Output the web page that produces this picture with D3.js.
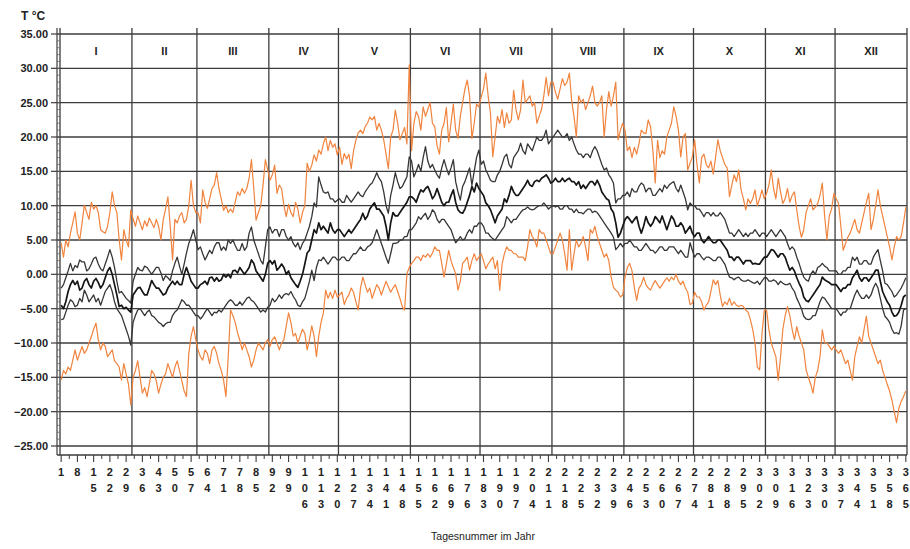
<!DOCTYPE html>
<html>
<head>
<meta charset="utf-8">
<script src="https://cdn.jsdelivr.net/npm/d3@7"></script>
<style>
  html, body { margin: 0; padding: 0; background: #fff; }
  svg { display: block; font-family: "Liberation Sans", Arial, sans-serif; }
</style>
</head>
<body>
<svg id="chart" width="910" height="549"></svg>
<script>
// Daily air temperature over the year (day 1 … 365)
const monthNames = ["I","II","III","IV","V","VI","VII","VIII","IX","X","XI","XII"];
const monthDays = [31,28,31,30,31,30,31,31,30,31,30,31];
const yTicks = [-25,-20,-15,-10,-5,0,5,10,15,20,25,30,35];
const dayTicks = [1,8,15,22,29,36,43,50,57,64,71,78,85,92,99,106,113,120,127,134,141,148,155,162,169,176,183,190,197,204,211,218,225,232,239,246,253,260,267,274,281,288,295,302,309,316,323,330,337,344,351,358,365];

// absolute daily maximum
const tMax = [
  4.6,2.5,5,4,6,7.5,9.1,6,5,7.5,10.1,9,8,10.5,9.5,10,9,6.5,6.2,6,7,9,12,10,9,5,2.1,6.5,5,4,9.4,
  8.1,7,8.5,7.5,6.5,7.8,7,8.2,7.5,6.8,8,7,5,8,9.5,11.3,7,2.1,8,7.5,8.5,9,7.5,8,10,13.7,10,9,
  9,7.5,12.3,10.5,9.6,11,12.5,13,14.8,12.5,11,9.3,10,9,9.5,9,10.5,12,11.5,12.5,11.8,12.5,14,16.7,12.5,7.9,9,10,13,16.7,15.2,
  13.7,14.5,15.9,11.8,13,12.5,10,8.4,10.2,9,8.4,10.5,9.5,7.5,9,10,16.2,15,15.9,17.4,16.5,18.1,17.5,19,20,18,19.5,18.5,19,17.4,
  18.5,16,17.6,16.8,17.5,15.4,18,19.5,20.6,21,20.5,21.5,22,22.9,22.5,23,21,22,21,19.6,17.5,15.4,20,21,23.9,22,19.6,20.5,21.4,19,30.5,
  18,22,23.7,23,21,24.4,23,24,25,22,21.5,18.7,17.5,21,22,24.3,19.3,22,24.8,21,19.8,23,25,27,28.3,26,19.8,22,24.8,24.4,
  25.8,27,29.3,26,23.5,17.1,20,23,22,24,21.4,23.5,22,22.5,26.8,24,22.5,24,28.3,25,25.5,26,24.5,25,22,23,24,26,28.7,26,28,
  28,26.5,25.5,27,28.5,27.5,28,29.3,25.3,23,20,26,25,25.5,24,25,26,27.4,25,24.5,25,26,20,24,26.6,24.5,26,28,19.6,21,22,
  21,18,18.6,17,18.5,17.5,19,21,20.6,20.5,22.5,21.5,18,13.3,19.5,17,18,17.5,20,21,22,24.4,23,21,17.1,20,20.5,15.2,16.2,17.1,
  19.6,16,13.3,17,17.5,16,15.5,16.5,14.6,17,19.6,18,17,16,15.5,11.3,13,14.5,13.5,15.2,12.3,11,9.4,11,10.3,11,12.3,10,11,12.3,11,
  11.8,13,15.2,12.5,11,14,12,10.3,11,12.5,10.5,11.5,12,9.4,7,5.4,6.5,9,10,11,9.4,9.8,10.3,11.5,13.3,8.5,5,8.5,9.5,11.8,
  11,10.3,7,3.5,4.5,5.4,6,7,8,6.5,6,7.5,9,10.5,11.8,6.5,8,10,12.3,10,8.5,7,5.5,4,2.1,4,5.5,5,5.5,7.5,9.8
];

// upper band
const tHigh = [
  -2,-1.5,-0.5,0.5,1.6,0.5,1.3,1,2.1,1.8,1.8,0.5,0.8,1.5,2.3,2.5,1.5,0.8,0.5,1.5,2.5,3.6,2.5,1,-1,-2.7,-2.5,-3,-3.5,-3.8,-4.2,
  -1,0,1,0.6,0.5,1.2,1,0.5,0,0.5,1,1,0.2,-0.9,-0.2,-0.5,-0.9,0.5,1.6,2.5,1.2,0,1.5,3.1,4.5,5.4,6.5,5,
  3.6,4,3,2.1,2.8,3.5,3,4,4.6,4.6,3.5,4,3.5,5,4.5,5,4.2,3.5,3.5,4.5,3.5,4,6,6.9,5,4,3,2,1.5,4,6.5,
  6.9,6,6.5,6.5,5.5,6.5,6.5,5.5,5,5.5,4.5,4,4.6,3.6,4.5,5,6,7,8.4,10.4,9.8,14.2,13,12,11.8,12,11,11,10.5,10.8,
  11,10.5,10.5,11.5,11,10.5,11,11.5,12,11.5,11.3,12,12.5,13,13.3,14,14.8,14,13.5,12,10,8.9,11.5,13,14.8,13.5,12.5,12.8,13.5,14.2,17.1,
  16.5,14.2,15,16,15,17,18.6,16.5,15.5,16,15.2,14.5,14,15.5,16.7,15.5,14.5,15.5,16.7,13.5,12,10.8,12.8,13.5,14.5,15.5,13,15,17,18.1,
  16,16.5,15.2,14.5,13.7,13.5,13.5,14.5,15,16,17.1,17.5,16,15.5,17,17.5,18,19.1,18,17.5,19,18.5,18,19,20,19.5,19.5,20,21,19,19.5,
  20,20.5,21,20.5,20,20,20.5,19.5,20,19,18.1,17.5,17.5,17,17.5,17.5,17,18,18.6,18,17,16,15.2,15.5,14.5,14,13.3,10.4,11,11,11.5,
  11.5,12,11.3,12.5,12,12,12.8,13.3,13,12,12.5,12.5,11.5,11.5,12,12.5,12,13,12.5,13,13.3,13.5,12.5,12,13,12,11,9.4,10.4,10,
  10,9.5,9.5,9,8.4,9,9,8.5,9,8.5,8.5,9,8.5,8,7,6,6,5.5,6,6.5,6,5.5,6,5.5,6,6,6.5,6,5.5,6,6,
  5.5,6,6.5,6,5.5,6,6.5,6,5.5,4.5,3.6,4,3.6,2.5,1.6,0.5,-0.4,-0.8,-1,0,0.5,0,1,1.2,1.6,1.2,1,0.5,0.5,0.5,
  0.5,0,0,0.5,0.5,1,1,2.5,2,2.5,1.5,1.5,2,2,1.5,1.5,2.5,3.1,3.6,2,0.5,-1.3,-1.5,-2,-2.5,-3.3,-3,-2.5,-2,-1.3,-0.5
];

// daily mean
const tMean = [
  -4.5,-5,-4,-2.5,-1.5,-0.9,-1.5,-1,-2.3,-2,-1,-0.6,-1.5,-2,-1,-0.6,-1.2,-2,-1.5,-0.5,0.5,1,0,-1.5,-3,-4.7,-4.5,-5,-4.8,-5.2,-5.5,
  -3,-2.5,-2,-1.9,-2.5,-3,-3,-2,-0.9,-1.5,-2,-2,-2.5,-3,-2.8,-2,-1.5,-1,-1.5,-1,-1.5,-1.5,0,1,0,-1,-1.5,-2,
  -2,-1.5,-1.3,-1,-1.5,-0.5,-0.4,-1,-0.5,-1,-0.8,0,-0.4,0,-0.5,0.5,0.6,0.2,1,0.5,0,0.5,1,2.1,1.6,0.5,0,-0.5,-1,0,1.6,
  2,1.5,2,0.6,1,1.5,1,0,0.5,-0.5,-1,-1.5,-1.9,-1,0,1.5,3.1,3.5,5,6.5,6,7.5,6.5,7,6.5,6,7.5,6.5,6,6.5,
  6.5,6,5.5,6,6.5,6,6.5,7,7.5,8,8.9,8,8.5,9.5,10,10.4,9.5,9.5,9,8.5,7,5,7.5,9,8.5,8.5,9,9.5,10,10.5,11.3,
  11.3,11,10.5,11.5,12.3,12,12.5,12.8,12,11,11.5,12.5,11.5,10.5,10,10.5,10.5,11.5,12.3,10.5,9.4,9,8.9,9.5,10.5,11.5,12.8,12,13.3,12.5,
  12,11.5,10.4,10,9.4,8.5,7.5,8.5,9,9.5,11,10.5,11.5,12.8,12,11.5,11.5,12,12.5,13,13.7,13,12.8,13.5,13.7,13.5,14,14.2,14.5,14,13.3,
  13.5,14,13.5,13.5,14,13.5,13.8,14,13.5,13.5,13,13.5,12.5,13,12.5,13,13.5,13.5,13,13.7,13,12,11.5,11,10.8,9.5,9,7.5,5.4,6,7,
  8,8.4,8,7.5,8,8.4,7,6,7,8.4,7.5,7,7.5,8.4,8,7.5,8.5,7.5,6.5,7.5,8.5,8,7,7,7.5,7,6,6.5,7,6,
  5.5,6,6,5,4.6,5,5.5,5,4.6,4.6,5,5,4.5,4,3.5,2.5,2.5,2,2.5,2.5,2,1.5,2,2,2,1.5,1.6,1.5,1.5,2,2.5,
  2.5,3,3.6,3.5,3,2.5,3,3,2.5,1.5,0.6,1,0.5,-0.5,-1.3,-2,-3.3,-3.8,-4,-3.5,-3,-2.5,-2,-1.5,-0.4,-0.8,-1,-1.2,-1.5,-1.5,
  -1.5,-2,-2.5,-2,-2,-1.5,-1.5,-0.5,0,0.6,-0.5,-1,-0.5,-0.5,-1,-0.5,0,0.6,0.6,-1,-2.5,-3.3,-4,-4.5,-5.5,-6.1,-6,-5.5,-4.5,-3.3,-3
];

// lower band
const tLow = [
  -6.6,-6.5,-5.5,-4.5,-3.7,-4,-4.7,-4.5,-3.5,-4,-2.3,-3,-4,-3.5,-3,-4,-3.5,-4.5,-3.5,-2.5,-2,-1.5,-2.5,-4,-5,-5.5,-6,-7,-8,-9,-10.3,
  -7,-6,-5.2,-5,-5.5,-6,-5.5,-5.2,-6,-6.2,-6.6,-7,-7.2,-7.6,-7.2,-7,-7,-6,-5.5,-5.2,-4.5,-3.7,-4,-4.5,-4.5,-5,-5.5,-6,
  -6,-6.5,-6.1,-5.5,-5,-5.5,-6,-5.5,-5.6,-5.2,-5.5,-5,-4.5,-4,-3.7,-4,-4.5,-4.5,-4,-4.5,-4,-3.5,-3.3,-3.8,-4,-4.5,-5,-5.5,-5.2,-5.5,-4.8,
  -4.5,-3.5,-4,-3.6,-3,-3.5,-3,-2.8,-3,-2.5,-3.2,-3.7,-4.5,-4.7,-4,-3.5,-2.3,-1,0.6,-0.9,1,2.1,2,2.5,2,1.5,2,2.5,2.5,2.1,
  2.1,2.5,2.5,2,2,2.5,3,3,3.5,4,3.5,3.5,4,4.2,4.6,5.5,6.5,5.5,4.5,3.5,2.5,1.6,3,4.5,4.5,4.6,5,5,5.5,5.5,6.5,
  6.5,7,7.5,8.4,8,8.5,8.9,8,8.5,9.4,9,8,7.5,8,8,7.5,7,6.5,5.5,4.6,5,5.5,5,5.2,6,6.5,6,7,7,7.5,
  7.5,7,6,6,5.5,5.2,5,5.5,6,6.5,7,8.4,8,7.5,8,8,8.5,9,9.4,9.5,9.8,9.5,9.4,9.5,9.8,10,10,10.4,10,9.5,9.8,
  10,9.8,10,9.5,9.5,10,10,9.5,9.5,9,9.5,9,9,8.8,9.2,9.5,9.5,9,9.2,9,8.5,8,7.5,7,6.5,6,5.4,3.6,4,4.5,4,
  4.5,4.5,5,4.5,4,4,3.5,3.5,4,4.5,4,3.5,3.5,3.1,3.5,4,4,3.5,3.5,4,4,4,3.5,3,3.5,3,2.5,2.5,4.6,3.5,
  2.5,3,3,2.5,2.1,2.5,2.5,2.3,2,2,2.5,2.5,2,1.5,0.5,-0.4,-0.5,-0.8,-0.5,-0.4,-0.8,-1,-1,-0.8,-1,-1.2,-1.3,-1,-1.5,-1,-0.5,
  -0.5,-1,-1,-0.8,-1,-1.5,-1,-1.3,-1.5,-1.5,-1.3,-2,-2.5,-3.5,-4.2,-5,-6.1,-6.5,-6.6,-6.5,-6,-6,-5,-4,-3.3,-3.5,-4,-4.5,-5,-5,
  -5,-5.5,-6,-5.5,-5.5,-5,-5,-4,-3,-2.3,-3,-3.5,-3.5,-3,-3.5,-3,-2,-1.3,-2,-3.5,-5,-6.1,-6.5,-7,-8,-8.6,-8.5,-8.7,-7.5,-5.2,-5
];

// absolute daily minimum
const tMin = [
  -15.4,-14,-14.5,-13.5,-14,-12.5,-11,-12.5,-11.5,-10.5,-11.5,-11,-10,-9.1,-8,-7.1,-9.5,-11,-10,-10.5,-12,-11.5,-11,-12.6,-13,-13.5,-15.4,-13,-14.5,-16,-19,
  -15,-14,-12.6,-15,-17.3,-16.5,-17.8,-16,-14,-14.5,-15.5,-17.3,-16,-15,-14.5,-13,-14,-15,-13.5,-12.6,-14,-15.5,-17,-17.8,-11.5,-9,-7.6,-9.5,
  -11,-12,-12.5,-11,-11.5,-13,-11,-10.5,-11.5,-13,-14,-15.4,-17.8,-12,-5.2,-6,-7,-8.5,-9.6,-11,-10,-11,-12,-13.5,-12.5,-11,-10,-10.5,-11,-10,-9.5,
  -10.5,-9.5,-9.1,-10,-11,-10,-9.5,-7.5,-5.6,-7,-9,-8.6,-10,-9,-8,-8.6,-11,-9.5,-7.5,-9,-12,-9,-7,-5.6,-2.3,-3.5,-2.6,-3.5,-2.3,-3.3,
  -3,-2.6,-4.4,-3.5,-3,-2,-2.6,-4,-5.2,-2,-0.4,-1.5,-2.6,-2,-3.5,-2.5,-1.5,-2,-3,-2,-1,-1.8,-2.6,-2,-1.5,-2.5,-3.5,-4.7,-5.2,0.1,1,
  1.6,2,2.5,2.5,2,2.8,2.5,3,2.5,3.1,4,3.5,3.5,1.6,-0.4,1.5,3.5,2,1,0.1,-2.3,-1,1.6,2,2.5,0.6,2,3,2,2.5,
  3,2,0.8,1.5,2,2.5,0.8,2,-2.3,1.5,3,4,3.5,3.5,3,3,2.5,2.5,2.5,2,4,6.5,5.5,5,4,6.5,6,6,5,4,3,
  3,4,5,6,5,3,0.6,6.5,0.6,3,5,4,4.5,5.5,4,2,6.5,6,7,5.5,4.5,3.5,2.5,3,2,-0.4,-1.9,-2.3,-2.6,-3.3,-3,
  -0.4,1,1.6,0.5,-1.9,-3.8,-2,-1.5,-0.4,-1.5,-2,-2.3,-1.5,-0.9,-1.5,-2,-1.5,-1,-0.5,-1,-0.4,-0.8,0,-1,-1.5,-1,-2,-2.6,-4.4,-4.2,
  -2.6,-3.3,-3.3,-4,-5.2,-4.5,-4,-2.5,-0.8,-1.5,-0.9,-3,-4.7,-4,-4.4,-3.5,-4.5,-4,-4.5,-4.7,-4.5,-4.7,-5.2,-5.5,-6.6,-8,-10,-13.5,-13.9,-8.7,-5.2,
  -5.2,-8.1,-10,-11,-12,-15.4,-12,-8,-6,-4.7,-6,-8,-9.5,-7.6,-9,-10,-11,-13.9,-15,-16,-17.3,-15,-14,-12,-8.1,-10,-10,-10.5,-11,-10.5,
  -11,-11.5,-11,-12,-13,-12.5,-14,-15.4,-12,-10.5,-9.1,-10,-8,-6.1,-9,-10,-11,-12,-13,-12.5,-14,-15,-16,-17,-18.3,-20,-21.6,-19.5,-18.5,-17.8,-17
];

const svg = d3.select("#chart");

const x = d3.scaleLinear().domain([0, 365]).range([60, 907]);
const y = d3.scaleLinear().domain([-25, 35]).range([446, 34]);

const frameTop = y(35) - 6;
const axisY = y(-25) + 9;
const axisX = 57;
const gridColor = "#3c3c3c";

// month boundaries
const bounds = [0];
monthDays.forEach(d => bounds.push(bounds[bounds.length - 1] + d));

// horizontal grid
svg.append("g").selectAll("line").data(yTicks).join("line")
  .attr("x1", axisX).attr("x2", x(365))
  .attr("y1", d => y(d)).attr("y2", d => y(d))
  .attr("stroke", gridColor).attr("stroke-width", 1.3);

// vertical month lines
svg.append("g").selectAll("line").data(bounds).join("line")
  .attr("x1", d => x(d)).attr("x2", d => x(d))
  .attr("y1", frameTop).attr("y2", axisY)
  .attr("stroke", gridColor).attr("stroke-width", 1.3);

// y axis line with major and minor ticks
svg.append("line").attr("x1", axisX).attr("x2", axisX)
  .attr("y1", frameTop).attr("y2", axisY)
  .attr("stroke", gridColor).attr("stroke-width", 1.2);
svg.append("g").selectAll("line").data(d3.range(-25, 36, 1)).join("line")
  .attr("x1", axisX).attr("x2", axisX + 3)
  .attr("y1", d => y(d)).attr("y2", d => y(d))
  .attr("stroke", "#666").attr("stroke-width", 0.8);
svg.append("g").selectAll("line").data(yTicks).join("line")
  .attr("x1", axisX - 6).attr("x2", axisX)
  .attr("y1", d => y(d)).attr("y2", d => y(d))
  .attr("stroke", gridColor).attr("stroke-width", 1.2);

// y labels
const fmt = v => (v < 0 ? "\u2212" : "") + Math.abs(v).toFixed(2);
svg.append("g").selectAll("text").data(yTicks).join("text")
  .attr("x", 48).attr("y", d => y(d) + 4)
  .attr("text-anchor", "end")
  .attr("font-size", 11).attr("font-weight", "bold").attr("fill", "#222")
  .text(fmt);

svg.append("text").attr("x", 21).attr("y", 20)
  .attr("font-size", 12).attr("font-weight", "bold").attr("fill", "#222")
  .text("T \u00B0C");

// x axis line and ticks
svg.append("line").attr("x1", axisX).attr("x2", x(365))
  .attr("y1", axisY).attr("y2", axisY)
  .attr("stroke", gridColor).attr("stroke-width", 1.3);
svg.append("g").selectAll("line").data(dayTicks).join("line")
  .attr("x1", d => x(d - 0.5)).attr("x2", d => x(d - 0.5))
  .attr("y1", axisY).attr("y2", axisY + 7)
  .attr("stroke", gridColor).attr("stroke-width", 1.1);
svg.append("g").selectAll("line").data(dayTicks.slice(0, -1)).join("line")
  .attr("x1", d => x(d + 3)).attr("x2", d => x(d + 3))
  .attr("y1", axisY).attr("y2", axisY + 4)
  .attr("stroke", gridColor).attr("stroke-width", 1);

// stacked day-number labels
const tickG = svg.append("g").attr("font-size", 11).attr("font-weight", "bold").attr("fill", "#222");
dayTicks.forEach(d => {
  String(d).split("").forEach((ch, k) => {
    tickG.append("text")
      .attr("x", x(d - 0.5)).attr("y", axisY + 21 + k * 16)
      .attr("text-anchor", "middle").text(ch);
  });
});

svg.append("text").attr("x", 483).attr("y", 540)
  .attr("text-anchor", "middle").attr("font-size", 10.5).attr("fill", "#222")
  .text("Tagesnummer im Jahr");

// month labels
svg.append("g").selectAll("text").data(monthNames).join("text")
  .attr("x", (m, i) => x((bounds[i] + bounds[i + 1]) / 2))
  .attr("y", (y(35) + y(30)) / 2 + 4)
  .attr("text-anchor", "middle")
  .attr("font-size", 11).attr("font-weight", "bold").attr("fill", "#222")
  .text(m => m);

// series
const line = d3.line().x((v, i) => x(i + 0.5)).y(v => y(v));
const series = [
  { data: tMax,  color: "#f0843e", width: 1.2 },
  { data: tMin,  color: "#f0843e", width: 1.2 },
  { data: tHigh, color: "#363636", width: 1.3 },
  { data: tLow,  color: "#363636", width: 1.3 },
  { data: tMean, color: "#151515", width: 1.7 }
];
svg.append("g").selectAll("path").data(series).join("path")
  .attr("d", s => line(s.data))
  .attr("fill", "none")
  .attr("stroke", s => s.color)
  .attr("stroke-width", s => s.width)
  .attr("stroke-linejoin", "round");
</script>
</body>
</html>
